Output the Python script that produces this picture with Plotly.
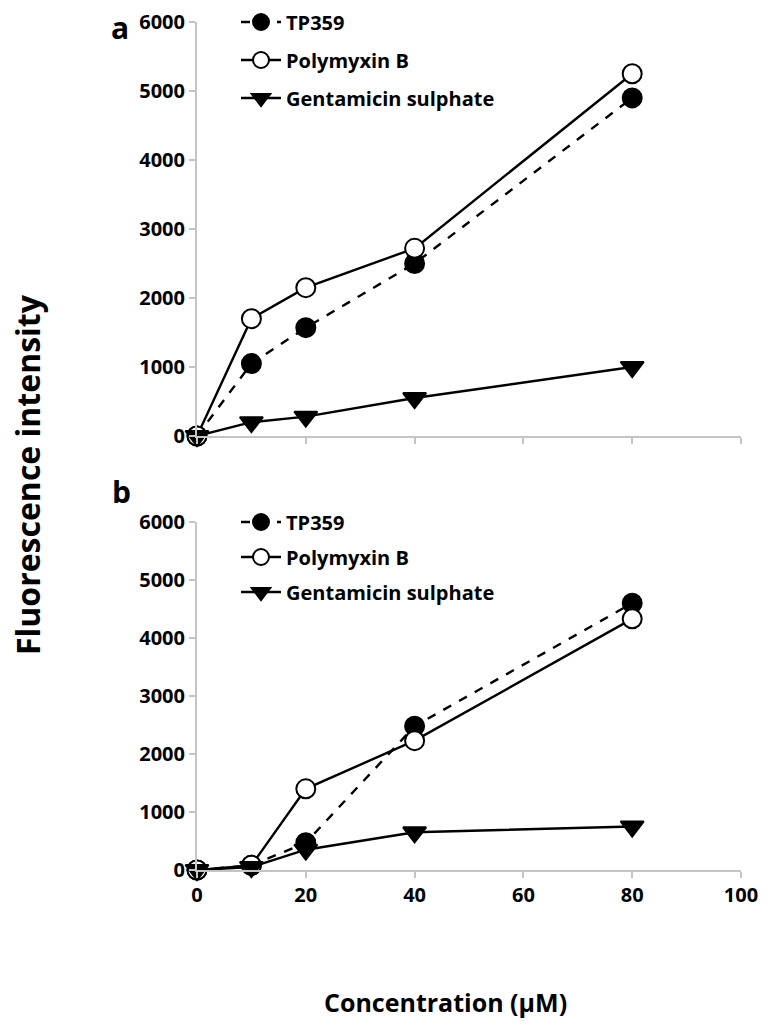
import plotly.graph_objects as go

conc = [0, 10, 20, 40, 80]

# Panel a
a_tp359 = [0, 1050, 1570, 2500, 4900]
a_polymyxin = [0, 1700, 2150, 2720, 5250]
a_gentamicin = [0, 200, 280, 550, 1000]

# Panel b
b_tp359 = [0, 80, 470, 2480, 4600]
b_polymyxin = [0, 80, 1400, 2230, 4330]
b_gentamicin = [0, 50, 350, 650, 750]

names = ["TP359", "Polymyxin B", "Gentamicin sulphate"]
x_ticks = [0, 20, 40, 60, 80, 100]
y_ticks = [0, 1000, 2000, 3000, 4000, 5000, 6000]

W, H = 769, 1032
FONT = "Open Sans"

def px(xp):
    return xp / W

def py(yp):
    return (H - yp) / H

fig = go.Figure()

legend_tops = {"a": [22, 60, 98], "b": [522, 557, 592]}
legend_layouts = {}
counter = [0]

def add_panel(panel, vals, xa, ya):
    styles = [
        dict(dash="dash", symbol="circle", fill="black"),
        dict(dash="solid", symbol="circle", fill="white"),
        dict(dash="solid", symbol="triangle-down", fill="black"),
    ]
    for i, (name, v, s) in enumerate(zip(names, vals, styles)):
        counter[0] += 1
        lname = "legend" if counter[0] == 1 else f"legend{counter[0]}"
        legend_layouts[lname] = dict(
            x=px(236), y=py(legend_tops[panel][i]), xanchor="left", yanchor="middle",
            bgcolor="rgba(0,0,0,0)", borderwidth=0, itemwidth=40,
            font=dict(family=FONT, size=20, color="black", weight="bold"))
        fig.add_trace(go.Scatter(
            x=conc, y=v, name=name, mode="lines+markers",
            xaxis=xa, yaxis=ya, legend=lname, cliponaxis=False,
            line=dict(color="black", width=2.4, dash=s["dash"]),
            marker=dict(symbol=s["symbol"], size=19 if s["symbol"] == "circle" else 20,
                        color=s["fill"], line=dict(color="black", width=2)),
        ))

add_panel("a", [a_tp359, a_polymyxin, a_gentamicin], "x", "y")
add_panel("b", [b_tp359, b_polymyxin, b_gentamicin], "x2", "y2")

axis_common = dict(showgrid=False, zeroline=False, showline=True, linecolor="#c4c4c4",
                   linewidth=2, ticks="outside", tickcolor="#c4c4c4", ticklen=6, tickwidth=2,
                   automargin=False,
                   tickfont=dict(family=FONT, size=20, color="black", weight="bold"))

xdom = [px(197), px(741)]
fig.update_layout(
    width=W, height=H, margin=dict(l=0, r=0, t=0, b=0, pad=0, autoexpand=False),
    plot_bgcolor="white", paper_bgcolor="white", showlegend=True,
    xaxis=dict(domain=xdom, range=[0, 100], tickvals=x_ticks, showticklabels=False,
               anchor="y", **axis_common),
    yaxis=dict(domain=[py(436), py(22)], range=[0, 6000], tickvals=y_ticks,
               anchor="x", **axis_common),
    xaxis2=dict(domain=xdom, range=[0, 100], tickvals=x_ticks, anchor="y2", **axis_common),
    yaxis2=dict(domain=[py(870), py(522)], range=[0, 6000], tickvals=y_ticks,
                anchor="x2", **axis_common),
    annotations=[
        dict(text="a", x=px(120), y=py(27), xref="paper", yref="paper", showarrow=False,
             xanchor="center", yanchor="middle",
             font=dict(family=FONT, size=30, color="black", weight="bold")),
        dict(text="b", x=px(121), y=py(492), xref="paper", yref="paper", showarrow=False,
             xanchor="center", yanchor="middle",
             font=dict(family=FONT, size=30, color="black", weight="bold")),
        dict(text="Fluorescence intensity", x=px(27), y=py(475), xref="paper", yref="paper",
             showarrow=False, textangle=-90, xanchor="center", yanchor="middle",
             font=dict(family=FONT, size=32, color="black", weight="bold")),
        dict(text="Concentration (μM)", x=px(445), y=py(1002), xref="paper", yref="paper",
             showarrow=False, xanchor="center", yanchor="middle",
             font=dict(family=FONT, size=25, color="black", weight="bold")),
    ],
)
fig.update_layout(**legend_layouts)

fig.write_html("out.html")
